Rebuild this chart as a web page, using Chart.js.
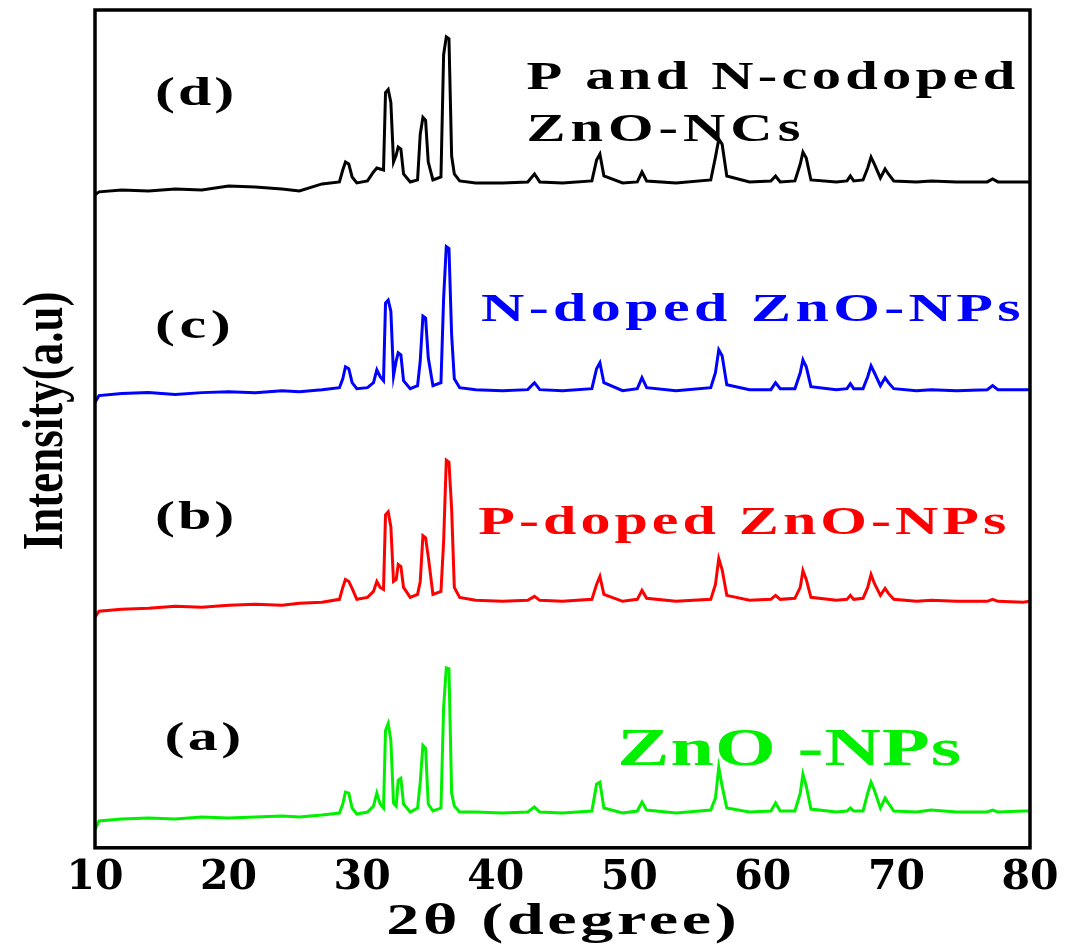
<!DOCTYPE html>
<html>
<head>
<meta charset="utf-8">
<script src="https://cdn.jsdelivr.net/npm/chart.js@4.4.1/dist/chart.umd.min.js"></script>
<style>
  html, body { margin: 0; padding: 0; background: #fff; }
</style>
</head>
<body>
<canvas id="xrd" width="1067" height="949"></canvas>
<script>
// 2theta positions shared by all four patterns
const twoTheta = [
    10.0, 10.3, 12, 14, 16, 18, 20, 22, 24, 25.3, 27,
    28.3, 28.55, 28.75, 29.0, 29.25, 29.6,
    30.4, 30.85, 31.1, 31.35, 31.6,
    31.75, 31.95, 32.15, 32.35,
    32.55, 32.7, 32.9, 33.1, 33.6,
    34.15, 34.35, 34.55, 34.75, 34.95, 35.3,
    35.9, 36.1, 36.3, 36.5, 36.7, 36.9, 37.3,
    38.5, 40.5, 42.4, 42.9, 43.3, 45.0,
    47.2, 47.55, 47.8, 48.1, 49.5,
    50.6, 50.95, 51.3, 53.5,
    56.1, 56.45, 56.7, 56.95, 57.3, 59,
    60.6, 60.95, 61.3, 62.4,
    62.8, 63.0, 63.25, 63.6, 65.5,
    66.3, 66.55, 66.8, 67.5,
    67.85, 68.1, 68.35, 68.8, 69.15, 69.4, 69.8,
    71.5, 72.6, 74.5, 76.8, 77.2, 77.6, 79.5, 80
];

// stacked intensities (a.u.)
const znoNPs = [
    18, 27, 29, 30, 29, 31, 30, 31, 32, 31, 33,
    35, 44, 56, 55, 40, 34,
    36, 42, 55, 44, 40,
    118, 125, 108, 45,
    42, 68, 70, 44, 36,
    40, 66, 103, 100, 44, 37,
    40, 141, 181, 180, 55, 42, 36,
    36, 35, 36, 41, 36, 35,
    37, 64, 66, 40, 35,
    37, 46, 38, 35,
    38, 50, 81, 62, 40, 36,
    37, 45, 37, 37,
    55, 74, 62, 39, 36,
    37, 40, 37, 37,
    55, 66, 58, 40, 50, 45, 37,
    36, 38, 36, 36, 38, 36, 37, 37
];

const pDoped = [
    232, 238, 240, 241, 243, 242, 244, 245, 244, 246, 247,
    250, 262, 270, 268, 261, 250,
    252, 258, 268, 262, 260,
    335, 338, 323, 268,
    270, 285, 283, 262, 252,
    255, 268, 314, 312, 293, 255,
    258, 308, 390, 388, 341, 262, 252,
    249, 248, 249, 253, 249, 248,
    250, 265, 273, 255, 248,
    250, 259, 251, 248,
    250, 265, 291, 280, 254, 249,
    250, 254, 250, 251,
    262, 279, 270, 252, 249,
    250, 254, 250, 251,
    262, 275, 266, 254, 261, 256, 250,
    248, 249, 248, 248, 250, 248, 247, 248
];

const nDoped = [
    448, 455, 457, 458, 456, 458, 459, 458, 460, 459, 461,
    463, 472, 484, 482, 468, 462,
    463, 468, 481, 474, 470,
    548, 551, 540, 475,
    490, 498, 496, 470, 462,
    465, 490, 535, 533, 493, 465,
    468, 553, 605, 603, 516, 472, 463,
    461, 460, 461, 468, 461, 460,
    462, 482, 488, 468, 460,
    462, 473, 463, 460,
    463, 478, 501, 495, 466, 461,
    461, 468, 462, 462,
    478, 491, 484, 464, 461,
    462, 467, 462, 462,
    474, 485, 478, 465, 473, 468, 462,
    460, 461, 460, 461, 465, 461, 461, 461
];

const pnCodoped = [
    657, 660, 662, 661, 663, 662, 666, 665, 663, 661, 668,
    670, 682, 690, 688, 675, 669,
    671, 680, 684, 683, 682,
    760, 763, 750, 690,
    697, 705, 703, 678, 670,
    672, 718, 735, 732, 690, 672,
    675, 798, 816, 814, 696, 678, 671,
    669, 669, 670, 678, 670, 669,
    671, 692, 698, 676, 669,
    670, 680, 671, 669,
    672, 695, 713, 708, 676, 670,
    671, 676, 670, 671,
    688, 700, 694, 672, 670,
    671, 676, 671, 672,
    684, 695, 688, 674, 683, 678, 671,
    670, 671, 670, 670, 673, 670, 670, 670
];

const seriesNames = ['(a) ZnO-NPs', '(b) P-doped ZnO-NPs', '(c) N-doped ZnO-NPs', '(d) P and N-codoped ZnO-NCs'];
const seriesValues = [znoNPs, pDoped, nDoped, pnCodoped];
const seriesColors = ['#00f000', '#ff0000', '#0000ff', '#000000'];

const xTicks = [10, 20, 30, 40, 50, 60, 70, 80];

const times = '"Liberation Serif", serif';

// text labels inside the frame, anchored in data units (left edge, baseline)
const annotations = [
    { text: '(d)', x: 14.5, y: 747, color: '#000', size: 40, width: 82 },
    { text: 'P and N-codoped', x: 42.3, y: 764, color: '#000', size: 39, width: 493 },
    { text: 'ZnO-NCs', x: 42.3, y: 711, color: '#000', size: 39, width: 279 },
    { text: '(c)', x: 14.5, y: 513, color: '#000', size: 40, width: 80 },
    { text: 'N-doped ZnO-NPs', x: 38.9, y: 530, color: '#0000ff', size: 40, width: 544 },
    { text: '(b)', x: 14.5, y: 321, color: '#000', size: 40, width: 82 },
    { text: 'P-doped ZnO-NPs', x: 38.7, y: 316, color: '#ff0000', size: 40, width: 532 },
    { text: '(a)', x: 15.2, y: 98, color: '#000', size: 40, width: 80 },
    { text: 'ZnO -NPs', x: 49.1, y: 83, color: '#00f000', size: 52, width: 345 }
];

// bold serif text, widened and letter-spaced to fill a given width
function stretchedText(ctx, text, x, y, size, width, align) {
    ctx.font = `bold ${size}px ${times}`;
    ctx.letterSpacing = '0px';
    const w = ctx.measureText(text).width;
    const sx = Math.min(1.5, width / w);
    const ls = Math.max(0, (width / sx - w) / text.length);
    ctx.save();
    ctx.translate(x, y);
    ctx.scale(sx, 1);
    ctx.letterSpacing = ls + 'px';
    ctx.textAlign = align;
    ctx.textBaseline = 'alphabetic';
    ctx.fillText(text, align === 'center' ? ls / 2 : 0, 0);
    ctx.restore();
}

const framePlugin = {
    id: 'frame',
    afterDraw(chart) {
        const { ctx, chartArea: a, scales } = chart;
        ctx.save();

        annotations.forEach(l => {
            ctx.fillStyle = l.color;
            stretchedText(ctx, l.text, scales.x.getPixelForValue(l.x), scales.y.getPixelForValue(l.y),
                l.size, l.width, 'left');
        });

        // axis titles
        ctx.fillStyle = '#000';
        stretchedText(ctx, '2θ (degree)', (a.left + a.right) / 2 - 1, a.bottom + 86, 44, 354, 'center');

        ctx.save();
        ctx.translate(a.left - 33, (a.top + a.bottom) / 2 - 8);
        ctx.rotate(-Math.PI / 2);
        ctx.scale(1, 1.25);
        ctx.font = `bold 45px ${times}`;
        ctx.letterSpacing = '0px';
        ctx.textAlign = 'center';
        ctx.textBaseline = 'alphabetic';
        ctx.fillText('Intensity(a.u)', 0, 0);
        ctx.restore();

        ctx.strokeStyle = '#000';
        ctx.lineWidth = 3.5;
        ctx.strokeRect(a.left, a.top, a.right - a.left, a.bottom - a.top);
        ctx.restore();
    }
};

new Chart(document.getElementById('xrd'), {
    type: 'line',
    data: {
        datasets: seriesValues.map((vals, i) => ({
            label: seriesNames[i],
            data: twoTheta.map((t, j) => ({ x: t, y: vals[j] })),
            borderColor: seriesColors[i],
            borderWidth: 3,
            pointRadius: 0,
            fill: false,
            tension: 0
        }))
    },
    options: {
        responsive: false,
        animation: false,
        devicePixelRatio: 1,
        layout: { padding: { top: 10, right: 37, bottom: 40, left: 95 } },
        plugins: {
            legend: { display: false },
            tooltip: { enabled: false }
        },
        scales: {
            x: {
                type: 'linear',
                min: 10,
                max: 80,
                afterBuildTicks: axis => { axis.ticks = xTicks.map(v => ({ value: v })); },
                ticks: {
                    color: '#000',
                    padding: 6,
                    font: { family: '"DejaVu Serif", serif', size: 41, weight: 'bold' }
                },
                grid: { display: false, drawTicks: false },
                border: { display: false }
            },
            y: {
                min: 0,
                max: 843,
                ticks: { display: false },
                grid: { display: false, drawTicks: false },
                border: { display: false }
            }
        }
    },
    plugins: [framePlugin]
});
</script>
</body>
</html>
